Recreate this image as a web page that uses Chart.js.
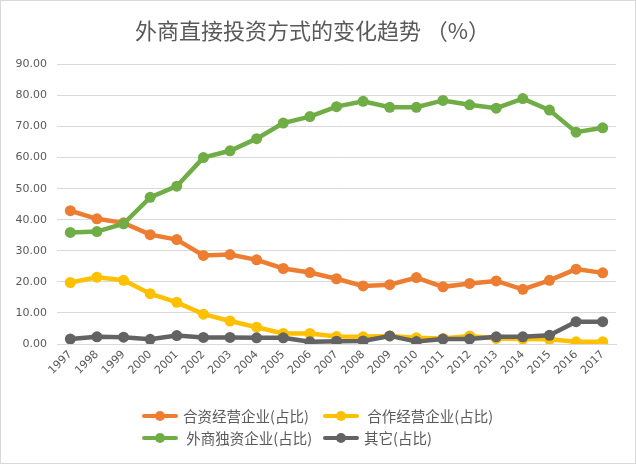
<!DOCTYPE html>
<html>
<head>
<meta charset="utf-8">
<script src="https://cdn.jsdelivr.net/npm/chart.js@4"></script>
<style>
    body { margin: 0; background: #fff; }
    #wrap {
        position: relative; width: 636px; height: 464px;
        box-sizing: border-box; border: 1px solid #d9d9d9; background: #fff;
    }
    #chart { position: absolute; left: 0; top: 0; }
    .leg {
        position: absolute; font-family: "Noto Sans CJK SC", sans-serif;
        font-size: 14.5px; color: #595959; white-space: pre; line-height: 20px;
    }
    .leg i {
        position: absolute; left: -41px; top: 8px; width: 36px; height: 4px;
        border-radius: 2px;
    }
    .leg i::after {
        content: ""; position: absolute; left: 13px; top: -3px;
        width: 10px; height: 10px; border-radius: 50%; background: inherit;
    }
</style>
</head>
<body>
<div id="wrap">
    <canvas id="chart" width="634" height="462"></canvas>
    <div class="leg" style="left:182px; top:405px;"><i style="background:#ED7D31"></i>合资经营企业(占比)</div>
    <div class="leg" style="left:363px; top:405px;"><i style="background:#FFC000"></i> 合作经营企业(占比)</div>
    <div class="leg" style="left:182px; top:427px;"><i style="background:#70AD47"></i> 外商独资企业(占比)</div>
    <div class="leg" style="left:363px; top:427px;"><i style="background:#636363"></i>其它(占比)</div>
</div>
<script>
const years = ['1997', '1998', '1999', '2000', '2001', '2002', '2003', '2004', '2005', '2006', '2007',
    '2008', '2009', '2010', '2011', '2012', '2013', '2014', '2015', '2016', '2017'];

const jointVenture = [42.9, 40.3, 39.0, 35.2, 33.6, 28.5, 28.8, 27.1, 24.3, 23.0, 21.0,
    18.7, 19.1, 21.4, 18.4, 19.5, 20.3, 17.6, 20.5, 24.1, 22.9];
const cooperative = [19.8, 21.5, 20.5, 16.2, 13.4, 9.6, 7.4, 5.4, 3.4, 3.4, 2.4,
    2.3, 2.6, 2.0, 1.8, 2.6, 1.8, 1.6, 1.5, 0.7, 0.7];
const foreignOwned = [35.9, 36.2, 38.7, 47.2, 50.8, 60.0, 62.2, 66.1, 71.1, 73.2, 76.4,
    78.1, 76.2, 76.2, 78.4, 77.0, 75.9, 79.0, 75.3, 68.2, 69.6];
const others = [1.6, 2.3, 2.2, 1.5, 2.7, 2.1, 2.1, 2.0, 2.0, 0.7, 0.9,
    1.0, 2.6, 0.8, 1.6, 1.6, 2.3, 2.3, 2.8, 7.2, 7.2];

const seriesNames = ['合资经营企业(占比)', ' 合作经营企业(占比)', ' 外商独资企业(占比)', '其它(占比)'];
const textColor = '#595959';

function lineSet(label, data, color, order) {
    return {
        label: label,
        data: data,
        borderColor: color,
        backgroundColor: color,
        borderWidth: 4.5,
        pointRadius: 5.5,
        pointHoverRadius: 5.5,
        pointBorderWidth: 0,
        tension: 0,
        order: order
    };
}

new Chart(document.getElementById('chart'), {
    type: 'line',
    data: {
        labels: years,
        datasets: [
            lineSet(seriesNames[0], jointVenture, '#ED7D31', 4),
            lineSet(seriesNames[1], cooperative, '#FFC000', 3),
            lineSet(seriesNames[2], foreignOwned, '#70AD47', 2),
            lineSet(seriesNames[3], others, '#636363', 1)
        ]
    },
    options: {
        responsive: false,
        animation: false,
        layout: { padding: { left: 8, right: 19, top: 0, bottom: 0 } },
        plugins: {
            legend: { display: false },
            tooltip: { enabled: false },
            title: {
                display: true,
                text: '外商直接投资方式的变化趋势 （%）',
                color: textColor,
                font: { family: '"Noto Sans CJK SC", sans-serif', size: 22, weight: 'normal' },
                padding: { top: 16, bottom: 21 }
            }
        },
        scales: {
            x: {
                offset: true,
                grid: { display: false, drawTicks: false },
                border: { display: true, color: '#d9d9d9' },
                ticks: {
                    color: textColor,
                    font: { family: '"DejaVu Sans", sans-serif', size: 11 },
                    minRotation: 45,
                    maxRotation: 45,
                    padding: 4
                },
                afterFit: (scale) => { scale.height = 119; }
            },
            y: {
                min: 0,
                max: 90,
                grid: { color: '#d9d9d9', drawTicks: false },
                border: { display: false },
                ticks: {
                    stepSize: 10,
                    color: textColor,
                    font: { family: '"DejaVu Sans", sans-serif', size: 11 },
                    padding: 10,
                    callback: (v) => v.toFixed(2)
                },
                afterFit: (scale) => { scale.width = 48; }
            }
        }
    }
});
</script>
</body>
</html>
